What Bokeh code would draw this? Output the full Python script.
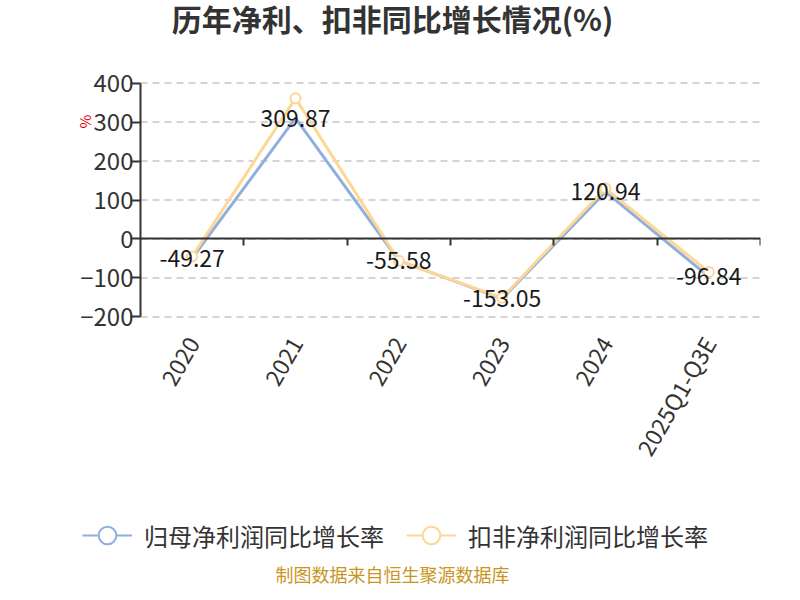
import math
from bokeh.plotting import figure
from bokeh.layouts import column
from bokeh.models import (Range1d, LinearAxis, FixedTicker, Label,
                          Legend, LegendItem, ColumnDataSource, LabelSet)
from bokeh.core.properties import value
from bokeh.embed import file_html
from bokeh.resources import INLINE

categories = ["2020", "2021", "2022", "2023", "2024", "2025Q1-Q3E"]
net_profit_growth = [-49.27, 309.87, -55.58, -153.05, 120.94, -96.84]
deducted_growth = [-45.0, 361.0, -56.0, -151.0, 130.0, -85.0]
label_texts = ["-49.27", "309.87", "-55.58", "-153.05", "120.94", "-96.84"]
series_names = ["归母净利润同比增长率", "扣非净利润同比增长率"]
title_text = "历年净利、扣非同比增长情况(%)"
footer_text = "制图数据来自恒生聚源数据库"
y_ticks = [-200, -100, 0, 100, 200, 300, 400]

BLUE = "#8fb0dc"
YELLOW = "#ffd694"
FONT = "Noto Sans CJK SC"
W = 784
LEFT = 76                 # frame left (canvas px); the axis itself sits at data x = 0
AXIS_X = 140              # canvas px of the category axis start
PLOT_W = 620              # canvas px covered by the categories
PAD = 40                  # extra y units above/below so edge tick labels are not clipped

n = len(categories)
xs = [i + 0.5 for i in range(n)]           # category centres
bounds = [i + 1 for i in range(n)]          # category boundaries
x_start = -(AXIS_X - LEFT) / (PLOT_W / n)
y_lo, y_hi = min(y_ticks), max(y_ticks)


def blank(height, y0=0):
    f = figure(width=W, height=height, x_range=Range1d(0, 1), y_range=Range1d(y0, y0 + 1),
               x_axis_location=None, y_axis_location=None, title=None,
               output_backend="svg", toolbar_location=None, min_border=0,
               min_border_left=LEFT, min_border_right=24)
    f.outline_line_color = None
    f.grid.visible = False
    return f


# ---- title strip
top = blank(40)
top.add_layout(Label(x=W / 2 - LEFT, y=23, x_units="screen", y_units="screen", text=title_text,
                     text_align="center", text_baseline="middle", text_font=FONT,
                     text_font_size="30px", text_font_style="bold", text_color="#333333"))

# ---- main chart
p = figure(width=W, height=440, x_range=Range1d(x_start, n), title=None,
           y_range=Range1d(y_lo - PAD, y_hi + PAD), output_backend="svg", toolbar_location=None,
           min_border_left=LEFT, min_border_right=24, min_border_top=27, min_border_bottom=148)
p.outline_line_color = None
p.xgrid.grid_line_color = None
p.ygrid.grid_line_color = None

p.yaxis.fixed_location = 0
p.yaxis.bounds = (y_lo, y_hi)
p.yaxis.ticker = FixedTicker(ticks=y_ticks)
p.yaxis.axis_line_color = "#333333"
p.yaxis.axis_line_width = 2
p.yaxis.major_tick_line_color = "#333333"
p.yaxis.major_tick_line_width = 2
p.yaxis.major_tick_out = 10
p.yaxis.major_tick_in = 0
p.yaxis.minor_tick_line_color = None
p.yaxis.major_label_text_font = FONT
p.yaxis.major_label_text_font_size = "24px"
p.yaxis.major_label_text_color = "#333333"
p.yaxis.major_label_standoff = -3

p.xaxis.ticker = FixedTicker(ticks=xs)
p.xaxis.major_label_overrides = {x: c for x, c in zip(xs, categories)}
p.xaxis.axis_line_color = None
p.xaxis.major_tick_line_color = None
p.xaxis.minor_tick_line_color = None
p.xaxis.major_tick_out = 0
p.xaxis.major_tick_in = 0
p.xaxis.major_label_orientation = math.pi / 3
p.xaxis.major_label_text_font = FONT
p.xaxis.major_label_text_font_size = "23px"
p.xaxis.major_label_text_color = "#333333"
p.xaxis.major_label_standoff = 6

zero_axis = LinearAxis(fixed_location=0, bounds=(0, n), ticker=FixedTicker(ticks=bounds))
zero_axis.axis_line_color = "#333333"
zero_axis.axis_line_width = 2
zero_axis.major_tick_line_color = "#333333"
zero_axis.major_tick_line_width = 2
zero_axis.major_tick_out = 7
zero_axis.major_tick_in = 0
zero_axis.minor_tick_line_color = None
zero_axis.major_label_text_font_size = "0px"
zero_axis.major_label_text_alpha = 0
zero_axis.major_label_standoff = 0
p.add_layout(zero_axis, "below")

# horizontal dashed grid limited to the category span
grid_src = ColumnDataSource(dict(x0=[0] * len(y_ticks), x1=[n] * len(y_ticks), y=y_ticks))
p.segment(x0="x0", x1="x1", y0="y", y1="y", source=grid_src, line_color="#c8c8c8",
          line_width=1.5, line_dash="7 5")

src = ColumnDataSource(dict(x=xs, a=net_profit_growth, b=deducted_growth, t=label_texts))
p.line("x", "a", source=src, line_color=BLUE, line_width=3)
p.line("x", "b", source=src, line_color=YELLOW, line_width=3)
p.scatter("x", "b", source=src, size=10, fill_color="white", line_color=YELLOW, line_width=2)
p.add_layout(LabelSet(x="x", y="a", text="t", source=src, text_align="center",
                      text_baseline="middle", text_font=value(FONT), text_font_size="23px",
                      text_color="#1a1a1a"))
p.add_layout(Label(x=8, y=211, x_units="screen", y_units="screen", text="%", angle=math.pi / 2,
                   text_align="center", text_baseline="middle", text_font=FONT,
                   text_font_size="15px", text_color="#e8000b"))

# ---- legend and footer strip (legend renderers fall outside this strip's ranges)
bot = blank(104, y0=1000)
bl = bot.line("x", "a", source=src, line_color=BLUE, line_width=2)
bs = bot.scatter("x", "a", source=src, size=10, fill_color="white", line_color=BLUE, line_width=2)
yl = bot.line("x", "b", source=src, line_color=YELLOW, line_width=2)
ys = bot.scatter("x", "b", source=src, size=10, fill_color="white", line_color=YELLOW, line_width=2)
legend = Legend(items=[LegendItem(label=series_names[0], renderers=[bl, bs]),
                       LegendItem(label=series_names[1], renderers=[yl, ys])],
                location=(6, 27), orientation="horizontal", glyph_width=50, glyph_height=44,
                label_standoff=12, spacing=22, padding=0, margin=0, border_line_color=None,
                background_fill_alpha=0, label_text_font=FONT, label_text_font_size="24px",
                label_text_color="#333333", label_text_baseline="middle")
bot.add_layout(legend, "center")
bot.add_layout(Label(x=W / 2 - LEFT, y=11, x_units="screen", y_units="screen", text=footer_text,
                     text_align="center", text_baseline="middle", text_font=FONT,
                     text_font_size="18px", text_color="#c8961e"))

layout = column(top, p, bot, spacing=0)
open("out.html", "w").write(file_html(layout, INLINE))
